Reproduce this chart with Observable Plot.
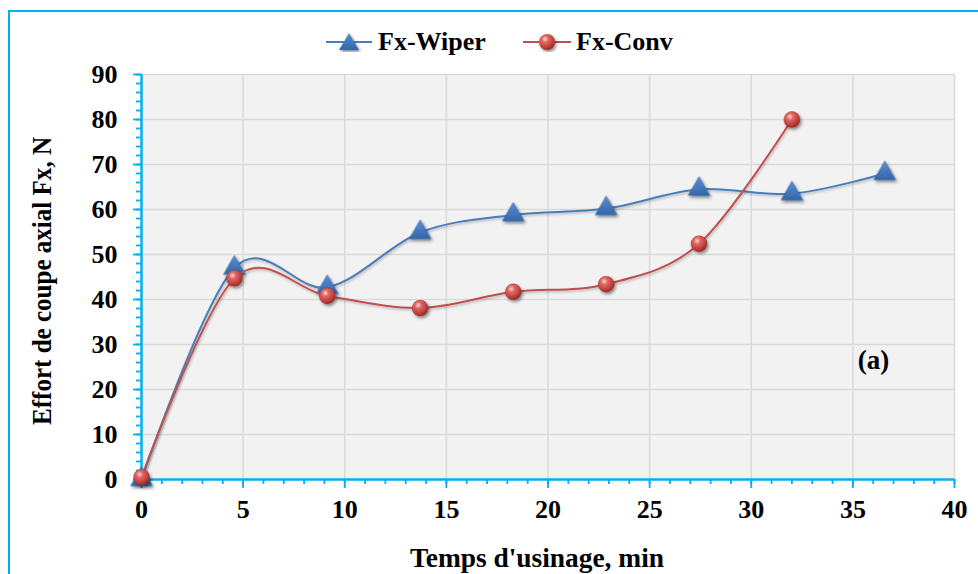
<!DOCTYPE html>
<html><head><meta charset="utf-8">
<script src="https://cdn.jsdelivr.net/npm/d3@7"></script>
<script src="https://cdn.jsdelivr.net/npm/@observablehq/plot@0.6"></script>
<style>
html,body{margin:0;padding:0;background:#fff;overflow:hidden}
#wrap{position:relative;width:978px;height:574px;overflow:hidden;font-family:"Liberation Serif","Times New Roman",serif;font-weight:bold;color:#000}
#border{position:absolute;left:8px;top:10px;width:1100px;height:700px;border:2px solid #00b0f0;box-sizing:border-box}
#chart{position:absolute;left:0;top:0}
.leg{position:absolute;top:29px;height:26px;line-height:26px;font-size:26px;white-space:nowrap}
.legsym{position:absolute;top:32px}
</style></head><body>
<svg width="0" height="0" style="position:absolute">
<defs>
<radialGradient id="redBall" cx="0.38" cy="0.32" r="0.7">
 <stop offset="0" stop-color="#fbd3d1"/>
 <stop offset="0.3" stop-color="#e06763"/>
 <stop offset="0.75" stop-color="#bf3d39"/>
 <stop offset="1" stop-color="#8c2826"/>
</radialGradient>
<linearGradient id="blueTri" x1="0" y1="0" x2="0" y2="1">
 <stop offset="0" stop-color="#5b8fd4"/>
 <stop offset="1" stop-color="#3366aa"/>
</linearGradient>
<filter id="shadow" x="-60%" y="-60%" width="220%" height="220%">
 <feDropShadow dx="1.5" dy="2" stdDeviation="1.4" flood-color="#000" flood-opacity="0.45"/>
</filter>
<filter id="lineShadow" x="-10%" y="-10%" width="120%" height="120%">
 <feDropShadow dx="1" dy="1.5" stdDeviation="1" flood-color="#000" flood-opacity="0.25"/>
</filter>
</defs></svg>
<div id="wrap">
 <div id="border"></div>
 <div id="chart"></div>
 <svg class="legsym" style="left:326px" width="46" height="20"><line x1="0" y1="10" x2="46" y2="10" stroke="#4a7ebb" stroke-width="2"/><path d="M23,1 L33,18 L13,18 Z" fill="url(#blueTri)" filter="url(#shadow)"/></svg>
 <div class="leg" style="left:378px">Fx-Wiper</div>
 <svg class="legsym" style="left:523px" width="48" height="20"><line x1="0" y1="10" x2="48" y2="10" stroke="#c0504d" stroke-width="2"/><circle cx="24" cy="10" r="8" fill="url(#redBall)" filter="url(#shadow)"/></svg>
 <div class="leg" style="left:576px">Fx-Conv</div>
</div>
<script>
// Data
const timeWiper = [0, 4.57, 9.14, 13.71, 18.29, 22.86, 27.43, 32, 36.57];
const fxWiper   = [0, 47, 42.7, 54.9, 58.8, 60.2, 64.5, 63.5, 68];
const timeConv  = [0, 4.57, 9.14, 13.71, 18.29, 22.86, 27.43, 32];
const fxConv    = [0.5, 44.7, 40.8, 38.1, 41.7, 43.4, 52.4, 80];
const xMajor = [0, 5, 10, 15, 20, 25, 30, 35, 40];
const yMajor = [0, 10, 20, 30, 40, 50, 60, 70, 80, 90];
const xTitle = "Temps d'usinage, min";
const yTitle = "Effort de coupe axial Fx, N";
const panelLabel = "(a)";

const wiper = timeWiper.map((t, i) => ({t, v: fxWiper[i]}));
const conv = timeConv.map((t, i) => ({t, v: fxConv[i]}));
const xMinor = d3.range(0, 41, 1);
const yMinor = d3.range(0, 91, 2);
const cyan = "#00b0f0";
const grid = {stroke: "#d9d9d9", strokeOpacity: 1, strokeWidth: 1.5};

const chart = Plot.plot({
  width: 978, height: 574,
  marginLeft: 141, marginRight: 24, marginTop: 74, marginBottom: 95,
  style: {fontFamily: "'Liberation Serif', 'Times New Roman', serif", fontWeight: "bold", fontSize: "26px", color: "#000", background: "transparent", overflow: "visible"},
  x: {domain: [0, 40]},
  y: {domain: [0, 90]},
  marks: [
    Plot.frame({fill: "#f2f2f2", stroke: null}),
    Plot.gridX(xMajor.slice(1), grid),
    Plot.gridY(yMajor.slice(1), grid),
    Plot.axisX(xMinor, {tickSize: 5, stroke: cyan, strokeWidth: 1.8, strokeOpacity: 1, tickFormat: () => "", label: null}),
    Plot.axisX(xMajor, {tickSize: 9, tickPadding: 11, stroke: cyan, strokeWidth: 1.8, strokeOpacity: 1, fill: "#000", fontSize: 26, label: null}),
    Plot.axisY(yMinor, {tickSize: 5, stroke: cyan, strokeWidth: 1.8, strokeOpacity: 1, tickFormat: () => "", label: null}),
    Plot.axisY(yMajor, {tickSize: 8, tickPadding: 16, stroke: cyan, strokeWidth: 1.8, strokeOpacity: 1, fill: "#000", fontSize: 26, label: null}),
    Plot.ruleX([0], {stroke: cyan, strokeWidth: 2.5}),
    Plot.ruleY([0], {stroke: cyan, strokeWidth: 2.5}),
    Plot.text([xTitle], {frameAnchor: "bottom", textAnchor: "middle", lineAnchor: "bottom", dy: 87, dx: -11, fontSize: 27, fontWeight: "bold", fill: "#000", className: "xtitle"}),
    Plot.text([yTitle], {frameAnchor: "left", textAnchor: "middle", lineAnchor: "top", rotate: -90, dx: -110, dy: 4, fontSize: 28, fontWeight: "bold", fill: "#000", className: "ytitle"}),
    Plot.text([panelLabel], {frameAnchor: "right", textAnchor: "middle", dx: -81, dy: 83, fontSize: 27, fontWeight: "bold", fill: "#000"}),
    Plot.line(wiper, {x: "t", y: "v", curve: "cardinal", stroke: "#4a7ebb", strokeWidth: 2}),
    Plot.dot(wiper, {x: "t", y: "v", symbol: "triangle", r: 8, fill: "url(#blueTri)", stroke: "#2f5f9e", strokeWidth: 0.6}),
    Plot.line(conv, {x: "t", y: "v", curve: "cardinal", stroke: "#c0504d", strokeWidth: 2}),
    Plot.dot(conv, {x: "t", y: "v", r: 8, fill: "url(#redBall)", stroke: "#9a3532", strokeWidth: 0.4})
  ]
});
d3.select(chart).selectAll("g[aria-label=dot]").attr("filter", "url(#shadow)");
d3.select(chart).selectAll("g[aria-label=line]").attr("filter", "url(#lineShadow)");
// condense the titles horizontally like the reference
d3.select(chart).selectAll(".xtitle text").attr("textLength", 254).attr("lengthAdjust", "spacingAndGlyphs");
d3.select(chart).selectAll(".ytitle text").attr("textLength", 288).attr("lengthAdjust", "spacingAndGlyphs");
document.getElementById("chart").appendChild(chart);
</script>
</body></html>
